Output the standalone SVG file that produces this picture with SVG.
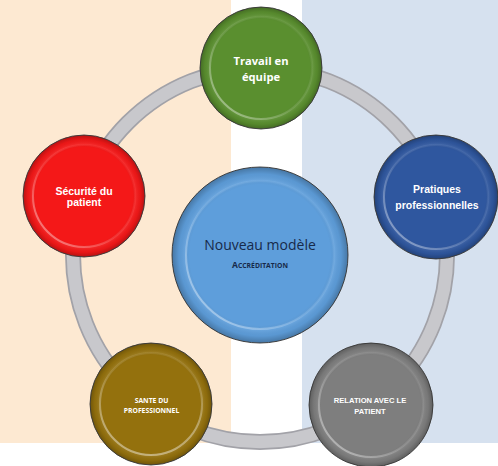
<svg xmlns="http://www.w3.org/2000/svg" width="498" height="466" viewBox="0 0 498 466">
<defs>
<style>
.plate{stroke:#4a4a4a;stroke-width:1}
.rimshade{fill:url(#rim)}
.hl{fill:none;stroke:url(#hlg);stroke-width:2}
.hl2{fill:none;stroke:url(#hlg2);stroke-width:2}
.lbl{fill:#ffffff;font-weight:bold;text-anchor:middle}
.ar{font-family:"Liberation Sans",Arial,sans-serif}
.os{font-family:"Open Sans","Noto Sans",sans-serif}
</style>
<radialGradient id="rim" cx="0.5" cy="0.5" r="0.5">
<stop offset="0" stop-color="#000" stop-opacity="0"/>
<stop offset="0.8" stop-color="#000" stop-opacity="0"/>
<stop offset="0.85" stop-color="#fff" stop-opacity="0.08"/>
<stop offset="0.92" stop-color="#000" stop-opacity="0.04"/>
<stop offset="1" stop-color="#000" stop-opacity="0.25"/>
</radialGradient>
<linearGradient id="hlg" x1="0" y1="1" x2="1" y2="0">
<stop offset="0" stop-color="#fff" stop-opacity="0.5"/>
<stop offset="0.45" stop-color="#fff" stop-opacity="0.1"/>
<stop offset="1" stop-color="#fff" stop-opacity="0"/>
</linearGradient>
<linearGradient id="hlg2" x1="0" y1="0" x2="1" y2="1">
<stop offset="0" stop-color="#fff" stop-opacity="0"/>
<stop offset="0.6" stop-color="#fff" stop-opacity="0.08"/>
<stop offset="1" stop-color="#fff" stop-opacity="0.45"/>
</linearGradient>
</defs>
<rect x="0" y="0" width="231" height="443" fill="#fde9d2"/>
<rect x="302" y="0" width="196" height="443" fill="#d6e1ef"/>
<g id="connectors">
<circle cx="260" cy="255" r="187" fill="none" stroke="#a2a2a8" stroke-width="16"/>
<circle cx="260" cy="255" r="187" fill="none" stroke="#c8c8cc" stroke-width="12.5"/>
</g>
<g id="center">
<circle class="plate" cx="260" cy="255" r="88" fill="#5e9edb"/>
<circle class="rimshade" cx="260" cy="255" r="88"/>
<circle class="hl" cx="260" cy="255" r="74"/>
<text class="os" x="260" y="250" font-size="14" fill="#172a4a" text-anchor="middle">Nouveau modèle</text>
<text class="os" x="260" y="268" font-size="6.8" font-weight="bold" fill="#172a4a" text-anchor="middle"><tspan font-size="8.5">A</tspan>CCRÉDITATION</text>
</g>
<g id="travail">
<circle class="plate" cx="261" cy="68" r="61" fill="#5a8f2f"/>
<circle class="rimshade" cx="261" cy="68" r="61"/>
<circle class="hl" cx="261" cy="68" r="51"/>
<text class="lbl os" x="261" y="65" font-size="11.2">Travail en</text>
<text class="lbl os" x="261" y="81" font-size="11.2">équipe</text>
</g>
<g id="securite">
<circle class="plate" cx="84" cy="196" r="61" fill="#f41818"/>
<circle class="rimshade" cx="84" cy="196" r="61"/>
<circle class="hl" cx="84" cy="196" r="51"/>
<text class="lbl ar" x="84" y="195" font-size="10.5">Sécurité du</text>
<text class="lbl ar" x="84" y="206" font-size="10.5">patient</text>
</g>
<g id="pratiques">
<circle class="plate" cx="436" cy="197" r="62" fill="#2f579f"/>
<circle class="rimshade" cx="436" cy="197" r="62"/>
<circle class="hl" cx="436" cy="197" r="52"/>
<text class="lbl ar" x="437" y="193" font-size="10.5">Pratiques</text>
<text class="lbl ar" x="437" y="209" font-size="10.5">professionnelles</text>
</g>
<g id="sante">
<circle class="plate" cx="151" cy="404" r="61" fill="#94710d"/>
<circle class="rimshade" cx="151" cy="404" r="61"/>
<circle class="hl2" cx="151" cy="404" r="51"/>
<circle class="hl" cx="151" cy="404" r="51"/>
<text class="lbl os" x="151.5" y="403" font-size="6.8">SANTE DU</text>
<text class="lbl os" x="151.5" y="413" font-size="6.8">PROFESSIONNEL</text>
</g>
<g id="relation">
<circle class="plate" cx="371" cy="405" r="62" fill="#7e7e7e"/>
<circle class="rimshade" cx="371" cy="405" r="62"/>
<circle class="hl" cx="371" cy="405" r="52"/>
<text class="lbl ar" x="370" y="403" font-size="7.6">RELATION AVEC LE</text>
<text class="lbl ar" x="370" y="414" font-size="7.6">PATIENT</text>
</g>
</svg>
